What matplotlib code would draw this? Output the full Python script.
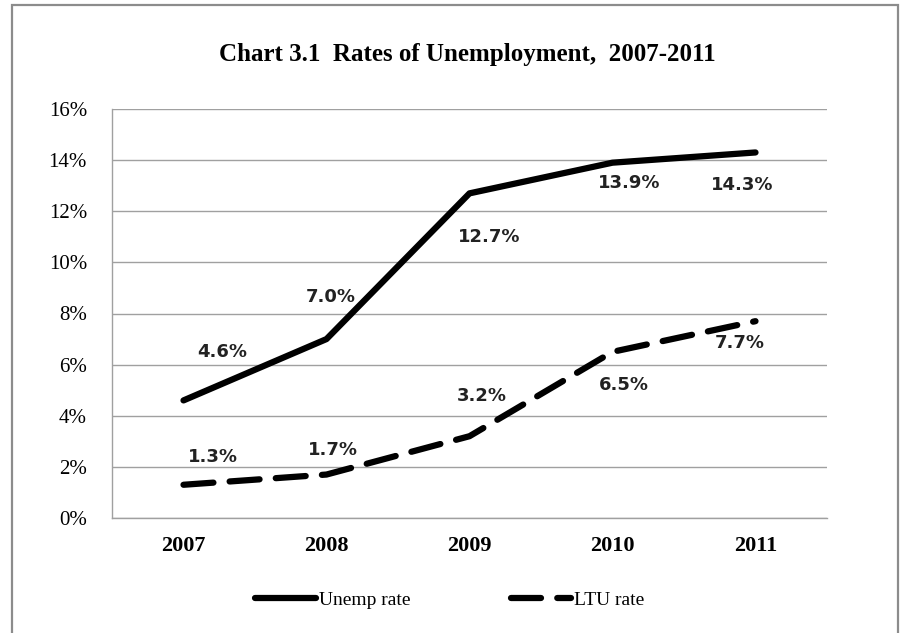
import matplotlib
matplotlib.use("Agg")
import matplotlib.pyplot as plt
from matplotlib.patches import Rectangle
from matplotlib.ticker import FuncFormatter

# unemployment data, 2007-2011
years = ["2007", "2008", "2009", "2010", "2011"]
unemp_rate = [4.6, 7.0, 12.7, 13.9, 14.3]
ltu_rate = [1.3, 1.7, 3.2, 6.5, 7.7]

# where each value label sits relative to its point (pixels)
unemp_offsets = [(39, 48), (4, 42), (20, -44), (17, -20), (-13, -33)]
ltu_offsets = [(29, 28), (6, 25), (12, 40), (11, -33), (-16, -22)]

serif = "Liberation Serif"
fig = plt.figure(figsize=(9.01, 6.33), dpi=100)
ax = fig.add_axes([112 / 901, 115 / 633, 715 / 901, 409 / 633])

x = range(len(years))
ax.plot(x, unemp_rate, color="black", lw=4.5, solid_capstyle="round",
        solid_joinstyle="round", label="Unemp rate")
ax.plot(x, ltu_rate, color="black", lw=4.5, dashes=(4.8, 2.6),
        dash_capstyle="round", label="LTU rate")

# value labels
for xi, v, off in zip(x, unemp_rate, unemp_offsets):
    ax.annotate(f"{v:.1f}%", (xi, v), xytext=off, textcoords="offset pixels",
                ha="center", va="center", fontsize=13, fontweight="bold",
                family="DejaVu Sans", color="#222222")
for xi, v, off in zip(x, ltu_rate, ltu_offsets):
    ax.annotate(f"{v:.1f}%", (xi, v), xytext=off, textcoords="offset pixels",
                ha="center", va="center", fontsize=13, fontweight="bold",
                family="DejaVu Sans", color="#222222")

ax.set_xlim(-0.5, len(years) - 0.5)
ax.set_ylim(0, 16)
ax.set_yticks(range(0, 17, 2))
ax.yaxis.set_major_formatter(FuncFormatter(lambda v, p: f"{v:.0f}%"))
ax.set_xticks(list(x))
ax.set_xticklabels(years, fontsize=16, fontweight="bold", family=serif)
for t in ax.get_yticklabels():
    t.set_family(serif)
    t.set_fontsize(15)
ax.tick_params(axis="y", length=0, pad=18)
ax.tick_params(axis="x", length=0, pad=13)

ax.grid(axis="y", color="#a0a0a0", lw=1)
ax.set_axisbelow(True)
for s in ["top", "right"]:
    ax.spines[s].set_visible(False)
for s in ["left", "bottom"]:
    ax.spines[s].set_color("#a0a0a0")
    ax.spines[s].set_linewidth(1)

fig.text(467 / 901, 1 - 55 / 633, "Chart 3.1  Rates of Unemployment,  2007-2011",
         ha="center", va="center", fontsize=18, fontweight="bold", family=serif)

ax.legend(loc="center", bbox_to_anchor=(450 / 901, 1 - 600 / 633),
          bbox_transform=fig.transFigure, ncol=2, frameon=False,
          prop={"family": serif, "size": 14}, handlelength=3.1,
          handletextpad=0.15, columnspacing=5.2)

# outer chart border
fig.patches.append(Rectangle((12 / 901, -0.05), 886 / 901, 1.05 - 5 / 633,
                             transform=fig.transFigure, fill=False,
                             edgecolor="#8c8c8c", lw=1.6))

fig.savefig("out.png", dpi=100)
